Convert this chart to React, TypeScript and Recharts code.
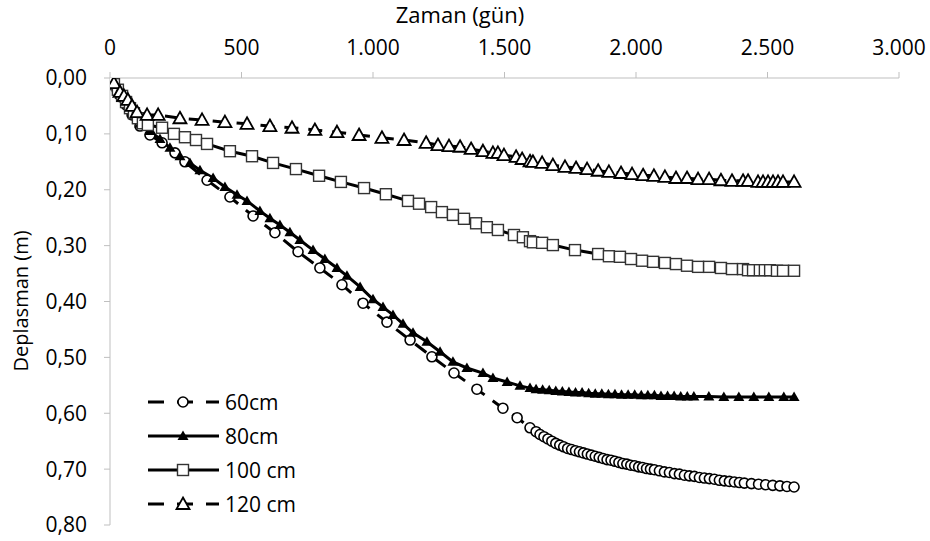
import { LineChart, Line, XAxis, YAxis, Legend } from 'recharts';

const FONT = '"Open Sans", sans-serif';

// time (days) and displacement (m) for each drain spacing
const days60 = [0, 11, 27, 42, 61, 84, 114, 152, 198, 247, 285, 369, 456, 544, 627, 715, 798, 882, 962, 1053, 1141, 1224, 1308, 1395, 1494, 1548, 1597,
  1620, 1635, 1650, 1665, 1680, 1695, 1710, 1725, 1740, 1755, 1770, 1785, 1800, 1815, 1830, 1845, 1860, 1875, 1890, 1905, 1920, 1935, 1950, 1965, 1980, 1995, 2010, 2025, 2040, 2055, 2070,
  2089, 2108, 2127, 2146, 2165, 2184, 2203, 2222, 2241, 2260, 2279, 2298, 2317, 2336, 2355, 2374, 2393, 2412,
  2439, 2466, 2493, 2520, 2547, 2574, 2601];
const vals60 = [0, 0.009, 0.021, 0.034, 0.048, 0.066, 0.086, 0.102, 0.116, 0.134, 0.150, 0.183, 0.213, 0.247, 0.277, 0.311, 0.340, 0.370, 0.403, 0.437, 0.469, 0.499, 0.528, 0.557, 0.591, 0.608, 0.626,
  0.633, 0.638, 0.642, 0.646, 0.650, 0.654, 0.657, 0.660, 0.663, 0.665, 0.667, 0.669, 0.671, 0.673, 0.675, 0.677, 0.679, 0.681, 0.683, 0.684, 0.686, 0.688, 0.690, 0.691, 0.693, 0.694, 0.696, 0.697, 0.699, 0.700, 0.701,
  0.703, 0.705, 0.706, 0.708, 0.709, 0.711, 0.712, 0.713, 0.715, 0.716, 0.717, 0.718, 0.720, 0.721, 0.722, 0.723, 0.724, 0.725,
  0.726, 0.727, 0.728, 0.729, 0.730, 0.731, 0.732];

const days80 = [0, 38, 76, 114, 152, 190, 228, 266, 304, 342, 392, 437, 483, 521, 570, 608, 646, 684, 722, 772, 817, 863, 901, 951, 1000, 1038, 1076, 1114, 1152, 1205, 1255, 1304, 1357, 1418, 1456, 1510, 1559, 1597,
  1620, 1645, 1670, 1695, 1720, 1745, 1770, 1795, 1820, 1845, 1870, 1895, 1920, 1945, 1970, 1995, 2020, 2045, 2070, 2095, 2120, 2145, 2170, 2195, 2220,
  2277, 2334, 2391, 2448, 2505, 2562, 2601];
const vals80 = [0, 0.030, 0.057, 0.082, 0.095, 0.109, 0.125, 0.140, 0.152, 0.165, 0.179, 0.195, 0.209, 0.220, 0.238, 0.251, 0.263, 0.276, 0.290, 0.308, 0.324, 0.340, 0.354, 0.374, 0.396, 0.410, 0.424, 0.440, 0.456, 0.472, 0.490, 0.508, 0.519, 0.528, 0.537, 0.544, 0.551, 0.555,
  0.557, 0.558, 0.559, 0.560, 0.561, 0.562, 0.563, 0.563, 0.564, 0.565, 0.565, 0.566, 0.566, 0.567, 0.567, 0.567, 0.568, 0.568, 0.568, 0.569, 0.569, 0.569, 0.570, 0.570, 0.570,
  0.570, 0.571, 0.571, 0.571, 0.571, 0.571, 0.571];

const days100 = [0, 15, 30, 46, 61, 76, 91, 106, 125, 144, 198, 243, 285, 327, 369, 456, 540, 620, 707, 795, 878, 966, 1049, 1133, 1175, 1221, 1262, 1304, 1346, 1392,
  1433, 1475, 1536, 1570, 1597, 1608, 1643, 1684, 1768, 1856, 1897, 1939, 1981, 2023, 2065, 2110, 2152, 2194, 2236, 2278, 2323, 2365, 2407, 2426, 2445, 2471, 2490, 2510, 2536, 2559, 2601];
const vals100 = [0, 0.011, 0.021, 0.032, 0.043, 0.054, 0.063, 0.072, 0.081, 0.084, 0.089, 0.100, 0.106, 0.111, 0.118, 0.131, 0.140, 0.152, 0.163, 0.175, 0.186, 0.197, 0.208, 0.220, 0.225, 0.231, 0.240, 0.245, 0.252, 0.260,
  0.267, 0.272, 0.281, 0.285, 0.292, 0.294, 0.295, 0.299, 0.308, 0.315, 0.319, 0.320, 0.324, 0.327, 0.329, 0.331, 0.333, 0.336, 0.338, 0.338, 0.340, 0.342, 0.342, 0.344, 0.344, 0.344, 0.344, 0.344, 0.345, 0.345, 0.345];

const days120 = [0, 15, 38, 53, 68, 84, 103, 141, 183, 266, 350, 437, 521, 608, 692, 779, 863, 947, 1034, 1118, 1202, 1247, 1289, 1331, 1373, 1418, 1456, 1475, 1498, 1544,
  1567, 1597, 1608, 1643, 1684, 1730, 1772, 1814, 1856, 1897, 1943, 1985, 2027, 2068, 2110, 2152, 2194, 2236, 2278, 2323, 2365, 2407, 2426, 2464, 2483, 2502, 2521, 2540, 2559, 2601];
const vals120 = [0, 0.009, 0.025, 0.032, 0.039, 0.050, 0.061, 0.066, 0.066, 0.072, 0.075, 0.079, 0.082, 0.086, 0.089, 0.093, 0.097, 0.102, 0.107, 0.111, 0.116, 0.120, 0.122, 0.123, 0.127, 0.131, 0.134, 0.134, 0.138, 0.141,
  0.145, 0.149, 0.150, 0.152, 0.156, 0.159, 0.161, 0.163, 0.166, 0.168, 0.170, 0.172, 0.174, 0.175, 0.177, 0.179, 0.179, 0.181, 0.181, 0.183, 0.184, 0.184, 0.184, 0.186, 0.186, 0.186, 0.186, 0.186, 0.186, 0.186];

const seriesNames = ['60cm', '80cm', '100 cm', '120 cm'];
const xTicks = [0, 500, 1000, 1500, 2000, 2500, 3000];
const yTicks = [0, 0.1, 0.2, 0.3, 0.4, 0.5, 0.6, 0.7, 0.8];

const toRows = (d: number[], v: number[]) => d.map((day, i) => ({ day, value: v[i] }));

const fmtX = (v: number) => (v >= 1000 ? `${Math.floor(v / 1000)}.${String(v % 1000).padStart(3, '0')}` : String(v));
const fmtY = (v: number) => v.toFixed(2).replace('.', ',');

// marker shapes
const circleMark = (cx: number, cy: number, k?: any) => (
  <circle key={k} cx={cx} cy={cy} r={5} fill="#fff" stroke="#000" strokeWidth={1.6} />
);
const filledTri = (cx: number, cy: number, k?: any) => (
  <path key={k} d={`M${cx},${cy - 5.5} L${cx + 5.5},${cy + 4} L${cx - 5.5},${cy + 4} Z`} fill="#000" />
);
const squareMark = (cx: number, cy: number, k?: any) => (
  <rect key={k} x={cx - 5.5} y={cy - 5.5} width={11} height={11} fill="#fff" stroke="#333" strokeWidth={1.4} />
);
const openTri = (cx: number, cy: number, k?: any) => (
  <path key={k} d={`M${cx},${cy - 6.5} L${cx + 6.5},${cy + 5} L${cx - 6.5},${cy + 5} Z`} fill="#fff" stroke="#000" strokeWidth={1.8} strokeLinejoin="miter" />
);
const markers = [circleMark, filledTri, squareMark, openTri];
const dashed = [true, false, false, true];

const dotFor = (i: number) => (p: any) => {
  if (p.cx == null || p.cy == null) return <g key={`e${i}-${p.index}`} />;
  return markers[i](p.cx, p.cy, `m${i}-${p.index}`);
};

const renderLegend = () => (
  <div style={{ fontFamily: FONT, fontSize: 21, color: '#000' }}>
    {seriesNames.map((name, i) => (
      <div key={name} style={{ display: 'flex', alignItems: 'center', height: 34 }}>
        <svg width={80} height={20} style={{ display: 'block' }}>
          <line x1={3} x2={74} y1={10} y2={10} stroke="#000" strokeWidth={3}
            strokeDasharray={dashed[i] ? '16 13' : undefined} />
          {markers[i](38, 10)}
        </svg>
        <span style={{ lineHeight: '20px' }}>{name}</span>
      </div>
    ))}
  </div>
);

export default function App() {
  const rows = [toRows(days60, vals60), toRows(days80, vals80), toRows(days100, vals100), toRows(days120, vals120)];
  return (
    <div style={{ position: 'absolute', left: 0, top: 0, background: '#fff' }}>
      <LineChart width={930} height={541} margin={{ top: 0, right: 31, bottom: 16, left: 0 }}>
        <XAxis
          orientation="top"
          type="number"
          dataKey="day"
          domain={[0, 3000]}
          ticks={xTicks}
          tickFormatter={fmtX}
          height={78}
          tickSize={6}
          tickMargin={17}
          axisLine={{ stroke: '#bfbfbf' }}
          tickLine={{ stroke: '#bfbfbf' }}
          tick={{ fill: '#000', fontSize: 21, fontFamily: FONT }}
          allowDataOverflow
          label={{
            content: () => (
              <text x={460} y={23} textAnchor="middle" fontSize={22} fontFamily={FONT} fill="#000">Zaman (gün)</text>
            ),
          }}
        />
        <YAxis
          type="number"
          reversed
          domain={[0, 0.8]}
          ticks={yTicks}
          tickFormatter={fmtY}
          width={110}
          tickSize={6}
          tickMargin={17}
          axisLine={{ stroke: '#bfbfbf' }}
          tickLine={{ stroke: '#bfbfbf' }}
          tick={{ fill: '#000', fontSize: 21, fontFamily: FONT }}
          allowDataOverflow
          label={{
            content: () => (
              <text x={28} y={301} transform="rotate(-90 28 301)" textAnchor="middle" fontSize={20} fontFamily={FONT} fill="#000">Deplasman (m)</text>
            ),
          }}
        />
        {rows.map((r, i) => (
          <Line
            key={seriesNames[i]}
            name={seriesNames[i]}
            data={r}
            dataKey="value"
            type="linear"
            stroke="#000"
            strokeWidth={3}
            strokeDasharray={dashed[i] ? '14 10' : undefined}
            dot={dotFor(i)}
            activeDot={false}
            isAnimationActive={false}
          />
        ))}
        <Legend
          layout="vertical"
          align="center"
          verticalAlign="middle"
          content={renderLegend}
          wrapperStyle={{ left: 145, top: 385, width: 200, bottom: 'auto', right: 'auto' }}
        />
      </LineChart>
    </div>
  );
}
